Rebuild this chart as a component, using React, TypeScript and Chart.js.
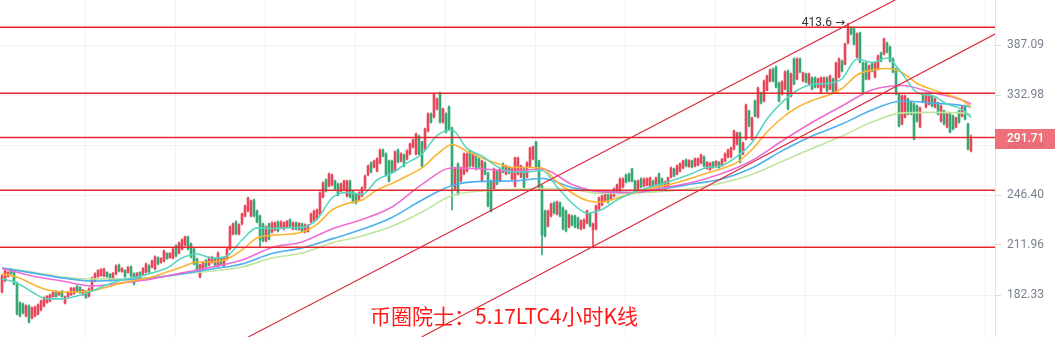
import React, { useEffect, useRef } from 'react';
import { Chart, registerables } from 'chart.js';

Chart.register(...registerables);

// ---- candle values (LTC 4h) ----
const openP = [
184.0,190.2,192.5,197.2,196.0,189.1,178.0,177.5,171.2,176.4,
170.2,171.2,172.2,174.3,176.4,178.0,179.1,181.3,184.6,182.3,
184.6,178.0,181.3,182.3,182.9,187.4,186.8,182.3,184.6,181.8,
185.2,190.2,192.5,193.1,193.1,195.4,194.3,190.8,194.3,199.6,
195.4,196.6,194.9,198.4,194.3,190.8,195.4,193.7,195.4,199.0,
198.4,197.2,203.8,200.8,202.0,206.9,203.8,203.8,211.4,206.9,
209.4,212.0,217.2,212.6,209.4,203.2,192.5,196.6,202.6,199.6,
200.8,203.2,199.0,203.8,199.0,203.2,209.4,219.2,227.2,219.2,
225.9,231.3,234.8,231.3,242.7,234.8,231.3,225.9,214.6,225.9,
220.5,221.8,227.2,223.2,222.5,223.8,228.6,222.5,226.5,221.8,
225.9,220.5,220.5,227.2,227.9,229.3,232.7,244.9,257.8,253.2,
254.0,257.0,254.7,249.4,251.0,245.7,257.0,248.7,247.2,243.4,
245.7,251.7,261.7,271.4,268.1,264.9,271.4,282.2,278.8,273.0,
273.0,264.9,282.2,273.0,278.0,274.7,278.8,284.7,278.8,294.3,
289.1,283.0,298.8,314.5,311.6,319.3,335.0,306.9,314.5,321.2,
301.5,251.0,270.5,257.0,262.5,264.9,281.4,268.9,277.2,274.7,
257.0,271.4,263.3,257.0,251.0,264.9,257.0,270.5,262.5,268.1,
258.6,253.2,262.5,260.1,266.5,260.1,268.9,274.7,289.1,273.0,
253.2,234.8,224.5,231.3,240.5,232.7,240.5,236.9,234.8,223.8,
231.3,231.3,229.9,222.5,223.2,226.5,232.7,221.8,222.5,236.2,
239.1,242.0,247.2,243.4,245.7,247.9,249.4,252.5,261.7,262.5,
266.5,257.0,250.2,258.6,253.2,254.0,253.2,257.0,254.7,262.5,
258.6,251.0,253.2,260.1,266.5,262.5,264.9,267.3,273.8,268.1,
273.0,268.9,269.7,271.4,276.3,266.5,265.7,272.2,268.1,272.2,
268.9,273.0,276.3,276.3,283.0,287.3,297.0,278.8,291.7,317.4,
291.7,327.0,311.6,335.0,327.0,338.0,347.4,360.1,362.3,345.3,
334.0,339.1,358.0,332.0,371.1,349.5,371.1,347.4,354.8,344.2,
350.5,350.5,341.1,336.0,341.1,350.5,339.1,349.5,336.0,351.6,
368.9,365.6,389.4,407.4,406.2,373.4,401.4,366.7,366.7,349.5,
365.6,351.6,360.1,377.9,376.8,389.4,384.8,371.1,360.1,334.0,
305.1,311.6,329.0,326.0,324.1,322.2,302.4,332.0,321.2,324.1,
332.0,321.2,325.1,307.9,317.4,302.4,314.5,312.6,302.4,317.4,
312.6,322.2,305.1,281.4];

const highP = [
193.7,196.6,195.4,197.2,196.6,189.7,178.6,178.0,177.0,177.0,
175.9,176.4,177.5,179.6,181.3,181.8,182.9,184.0,184.6,184.0,
184.6,181.8,184.0,186.3,186.3,187.4,186.8,185.2,184.6,186.3,
192.5,194.9,196.6,197.2,197.8,195.4,194.3,194.9,199.6,200.2,
197.8,196.6,198.4,199.0,194.9,194.9,195.4,197.8,200.8,199.6,
202.6,205.1,204.5,203.8,208.8,206.9,206.9,210.1,212.0,213.9,
215.9,217.8,217.8,213.3,210.1,203.8,200.2,201.4,202.6,204.5,
204.5,203.8,207.6,203.8,204.5,210.1,224.5,226.5,227.9,225.9,
233.4,239.1,244.9,242.7,243.4,235.5,232.0,226.5,224.5,226.5,
227.2,227.2,227.9,227.9,227.2,227.9,229.3,227.2,227.2,226.5,
226.5,225.9,225.2,233.4,235.5,236.2,248.7,256.3,258.6,263.3,
262.5,257.8,255.5,255.5,257.8,257.8,257.8,249.4,247.9,248.7,
252.5,261.7,269.7,272.2,273.8,275.5,283.0,283.0,279.7,273.8,
273.8,281.4,283.0,279.7,278.8,282.2,288.2,291.7,297.0,295.2,
289.9,301.5,315.5,315.5,335.0,330.0,336.0,320.2,315.5,322.2,
302.4,268.1,271.4,268.1,279.7,279.7,282.2,279.7,278.0,275.5,
273.8,272.2,264.1,257.8,267.3,265.7,267.3,271.4,269.7,268.9,
267.3,276.3,276.3,269.7,267.3,272.2,284.7,285.6,289.9,273.8,
254.0,235.5,235.5,240.5,241.3,242.0,241.3,237.7,235.5,232.7,
232.0,232.0,230.6,228.6,229.3,235.5,233.4,226.5,239.1,244.9,
246.4,247.9,247.9,248.7,251.7,254.7,259.4,259.4,262.5,263.3,
267.3,257.8,257.8,259.4,259.4,259.4,260.1,257.8,260.1,263.3,
259.4,257.0,260.1,268.1,267.3,269.7,271.4,273.8,274.7,273.8,
273.8,275.5,275.5,278.8,277.2,272.2,271.4,272.2,273.0,272.2,
274.7,279.7,283.0,284.7,299.7,297.9,297.9,289.1,324.1,318.3,
311.6,328.0,341.1,336.0,348.4,353.7,360.1,361.2,363.4,346.3,
347.4,358.0,359.0,355.8,372.3,372.3,372.3,356.9,355.8,355.8,
351.6,351.6,350.5,351.6,351.6,351.6,353.7,350.5,367.8,372.3,
370.0,389.4,413.6,408.6,407.4,401.4,402.6,367.8,367.8,364.5,
366.7,367.8,375.6,379.0,395.3,390.6,385.9,372.3,361.2,335.0,
333.0,333.0,330.0,327.0,325.1,323.1,321.2,333.0,335.0,335.0,
333.0,330.0,326.0,323.1,318.3,316.4,315.5,313.5,311.6,318.3,
322.2,323.1,306.0,295.2];

const lowP = [
183.5,189.7,192.5,194.3,188.0,171.7,170.7,172.2,170.7,167.6,
169.7,170.7,171.7,173.8,175.9,178.0,178.6,181.3,181.3,182.3,
181.3,177.5,181.3,182.3,182.9,184.0,183.5,182.3,180.7,181.3,
184.6,189.7,192.5,193.1,192.5,192.5,190.2,190.8,193.7,195.4,
195.4,192.5,194.9,192.5,188.0,190.8,192.0,193.7,194.9,194.9,
197.8,196.6,199.6,200.8,201.4,203.2,203.8,203.2,204.5,206.3,
208.8,211.4,208.8,203.8,199.6,195.4,192.0,196.0,198.4,199.0,
200.8,199.0,198.4,199.6,198.4,202.6,208.8,218.5,218.5,218.5,
225.2,230.6,234.1,230.6,230.6,226.5,210.7,213.9,213.9,215.2,
219.8,221.2,220.5,222.5,221.8,223.8,223.8,221.8,221.8,221.8,
220.5,219.8,220.5,226.5,227.2,228.6,232.0,244.2,248.7,252.5,
253.2,250.2,245.7,248.7,250.2,244.9,244.2,240.5,239.8,242.7,
244.9,251.0,260.9,263.3,267.3,264.1,270.5,276.3,260.9,256.3,
263.3,264.1,271.4,272.2,268.1,273.8,278.0,283.9,278.0,278.0,
268.1,282.2,297.9,306.0,310.7,318.3,306.0,306.0,297.0,299.7,
235.5,250.2,246.4,256.3,261.7,264.1,268.1,268.1,265.7,267.3,
256.3,261.7,237.7,234.1,250.2,254.0,256.3,263.3,261.7,262.5,
257.8,252.5,261.7,259.4,251.7,259.4,268.1,273.8,265.7,250.2,
205.7,217.2,223.8,230.6,232.7,232.0,230.6,221.8,220.5,223.2,
224.5,223.2,222.5,221.8,222.5,225.9,223.8,210.1,221.8,235.5,
238.4,241.3,240.5,242.7,244.9,247.2,248.7,251.7,255.5,256.3,
256.3,248.7,249.4,251.7,252.5,253.2,252.5,251.7,254.0,251.7,
252.5,250.2,252.5,259.4,260.1,261.7,264.1,266.5,268.1,268.1,
267.3,268.1,268.9,270.5,268.1,266.5,265.7,267.3,268.1,267.3,
268.9,272.2,275.5,275.5,282.2,286.4,271.4,278.0,290.8,302.4,
290.8,311.6,310.7,324.1,326.0,337.0,346.3,346.3,340.1,326.0,
333.0,338.0,318.3,331.0,343.2,348.4,355.8,346.3,345.3,343.2,
338.0,340.1,340.1,335.0,340.1,336.0,338.0,335.0,335.0,350.5,
356.9,364.5,388.3,398.9,387.1,372.3,366.7,335.0,348.4,348.4,
356.9,350.5,359.0,367.8,375.6,377.9,367.8,355.8,333.0,302.4,
304.2,310.7,313.5,313.5,290.8,306.9,301.5,325.1,320.2,323.1,
321.2,320.2,313.5,306.9,304.2,301.5,297.0,299.7,301.5,306.0,
311.6,308.8,282.2,280.5];

const closeP = [
193.1,196.0,195.4,194.3,188.5,172.2,171.2,172.8,176.4,168.1,
175.4,175.9,177.0,179.1,180.7,181.8,182.3,184.0,181.3,184.0,
181.3,181.3,184.0,186.3,186.3,184.0,183.5,185.2,180.7,185.7,
192.0,194.3,196.6,197.2,197.2,192.5,190.2,194.9,199.0,196.0,
197.8,192.5,198.4,193.1,188.5,194.9,192.0,197.8,200.2,195.4,
202.0,204.5,200.2,203.8,208.2,203.2,206.9,209.4,205.1,213.3,
215.2,217.2,209.4,204.5,200.2,196.0,199.6,200.8,198.4,203.8,
204.5,199.6,206.9,199.6,203.8,209.4,223.8,225.9,219.2,225.2,
232.7,238.4,244.2,242.0,231.3,227.2,215.2,214.6,223.8,215.9,
226.5,226.5,221.2,227.2,226.5,227.9,224.5,226.5,222.5,226.5,
221.2,225.2,225.2,232.7,234.8,235.5,247.9,255.5,249.4,262.5,
261.7,251.0,246.4,254.7,257.0,257.0,244.9,241.3,240.5,247.9,
251.7,260.9,268.9,264.1,273.0,274.7,282.2,277.2,261.7,257.0,
264.1,280.5,272.2,278.8,268.9,281.4,287.3,290.8,296.1,278.8,
268.9,300.6,314.5,306.9,334.0,329.0,306.9,319.3,297.9,300.6,
254.0,267.3,247.2,267.3,278.8,278.8,268.9,278.8,266.5,268.1,
273.0,262.5,238.4,234.8,266.5,254.7,266.5,264.1,268.9,263.3,
266.5,275.5,275.5,268.9,252.5,271.4,283.9,284.7,266.5,251.0,
218.5,217.8,234.8,239.8,233.4,241.3,231.3,222.5,221.2,232.0,
225.2,223.8,223.2,227.9,228.6,234.8,224.5,225.9,238.4,244.2,
245.7,247.2,241.3,247.9,251.0,254.0,258.6,258.6,256.3,257.0,
257.0,249.4,257.0,252.5,258.6,258.6,259.4,252.5,259.4,252.5,
253.2,256.3,259.4,267.3,260.9,268.9,270.5,273.0,268.9,273.8,
268.1,274.7,274.7,278.0,268.9,272.2,271.4,267.3,273.0,267.3,
274.7,278.8,282.2,283.9,298.8,297.0,272.2,288.2,323.1,303.3,
310.7,312.6,340.1,325.1,347.4,352.6,359.0,347.4,341.1,327.0,
346.3,356.9,319.3,354.8,344.2,371.1,356.9,355.8,346.3,354.8,
339.1,341.1,349.5,350.5,350.5,337.0,352.6,336.0,366.7,371.1,
358.0,388.3,409.9,400.1,388.3,400.1,367.8,336.0,349.5,363.4,
358.0,366.7,374.5,368.9,394.1,379.0,368.9,356.9,334.0,303.3,
332.0,332.0,314.5,314.5,291.7,307.9,320.2,326.0,334.0,334.0,
322.2,329.0,314.5,322.2,305.1,315.5,297.9,300.6,310.7,306.9,
321.2,309.7,283.0,291.71];

// ---- moving averages, read at sampled candle indices ----
const maFastIdx = [0,5,10,15,20,25,30,35,40,45,50,55,60,65,70,75,80,85,90,95,100,105,110,115,120,125,130,135,140,145,150,155,160,165,170,175,180,185,190,195,200,205,210,215,220,225,230,235,240,245,250,255,260,265,270,275,280,285,290,295,300,305,310,315,320,323];
const ma5 = [191.4,189.1,184.0,180.2,180.2,181.8,184.6,188.0,190.8,192.5,194.9,197.8,203.8,206.3,203.8,205.1,215.2,223.2,222.8,223.2,223.5,229.0,244.2,248.3,246.8,257.8,263.3,271.4,278.8,294.7,299.7,283.5,277.2,268.5,264.1,264.1,265.3,252.5,240.5,233.4,235.9,242.7,247.9,251.7,254.7,258.6,262.9,267.7,269.3,276.8,288.6,309.7,325.6,337.5,343.7,344.8,349.5,371.1,367.2,372.3,355.3,335.5,332.5,324.1,318.8,311.1];
const ma10 = [194.3,192.5,188.5,185.2,184.0,184.0,184.6,186.8,189.1,190.8,192.5,195.4,198.4,201.4,201.4,203.2,208.8,216.5,218.2,218.9,220.2,225.6,235.5,240.2,242.7,250.2,255.1,260.9,267.3,278.4,286.9,281.0,275.5,271.0,267.7,267.7,267.3,256.3,247.9,242.4,241.3,244.2,247.6,251.0,253.2,255.9,259.4,263.3,266.9,271.8,282.6,297.9,310.7,320.7,327.5,332.5,339.6,353.7,359.0,360.6,356.4,344.7,338.6,333.5,328.0,320.7];
const maSlowIdx = [0,10,20,30,40,50,60,70,80,90,100,110,120,130,140,150,160,170,180,190,200,210,220,230,240,250,260,270,280,290,300,310,320,323];
const ma20 = [197.5,193.1,190.2,187.4,189.1,191.4,194.9,198.4,202.6,210.4,213.9,222.5,228.9,237.7,254.4,267.3,266.5,264.9,266.5,254.4,248.7,248.3,251.7,255.9,262.9,273.4,289.9,306.5,322.2,338.0,342.7,335.5,328.0,324.1];
const ma30 = [197.8,194.9,192.0,190.2,190.8,192.0,194.3,197.2,200.2,206.6,210.1,215.9,222.2,230.3,242.7,253.6,256.7,257.0,259.0,252.1,249.0,248.3,251.0,254.7,258.6,267.3,281.4,294.3,305.1,318.3,327.0,325.1,322.6,321.2];
const ma60 = [197.8,195.4,192.5,191.4,191.4,192.0,194.3,196.0,198.4,203.8,206.9,213.3,217.8,224.2,234.1,246.0,249.4,250.6,251.3,250.6,247.5,247.9,249.1,251.3,255.5,262.1,272.6,283.5,294.3,306.9,315.5,316.0,315.5,314.0];

// ---- drawn levels and channel ----
const levelPrices = [408.3, 334.7, 293.0, 250.0, 210.5];
const channelUpperIdx = [82.1, 297.7];
const channelUpperPrice = [160.7, 443.3];
const channelLowerIdx = [139.9, 331.0];
const channelLowerPrice = [160.7, 400.1];

// ---- axes ----
const yTickValues = [182.33, 211.96, 246.40, 286.44, 332.98, 387.09];
const xGridIdx = [27.9, 57.9, 87.9, 117.9, 147.9, 177.9, 207.9, 237.9, 267.9, 297.9, 327.9];
const yMin = 160.67;
const yMax = 443.27;
const xMin = -2 / 3;
const xMax = 331;

const caption = '币圈院士：5.17LTC4小时K线';

const UP = '#e8465a';
const DOWN = '#37a874';
const GRID = '#f2f2f3';

export default function App() {
  const ref = useRef<HTMLCanvasElement>(null);

  useEffect(() => {
    document.body.style.margin = '0';
    const canvas = ref.current;
    if (!canvas) return;
    Chart.defaults.font.family = 'Roboto, "Noto Sans", sans-serif';

    const isUp = (i: number) => closeP[i] >= openP[i];
    const candleColor = (c: any) => (isUp(c.dataIndex) ? UP : DOWN);

    const bodies = openP.map((o, i) => ({ x: i, y: [o, closeP[i]] }));
    const wicks = lowP.map((l, i) => ({ x: i, y: [l, highP[i]] }));

    const maLine = (idx: number[], vals: number[], color: string) => ({
      type: 'line' as const,
      data: idx.map((x, k) => ({ x, y: vals[k] })),
      borderColor: color,
      borderWidth: 1.6,
      pointRadius: 0,
      fill: false,
      cubicInterpolationMode: 'monotone' as const,
      order: 1,
    });

    const straight = (xs: number[], ys: number[], color: string, width: number) => ({
      type: 'line' as const,
      data: xs.map((x, k) => ({ x, y: ys[k] })),
      borderColor: color,
      borderWidth: width,
      pointRadius: 0,
      fill: false,
      order: 0,
    });

    const levels = levelPrices.map((p) => straight([xMin, xMax], [p, p], '#e5262d', 1.5));

    const overlay = {
      id: 'overlay',
      afterDraw(chart: any) {
        const { ctx, chartArea, scales } = chart;
        const ys = scales.y;
        const xs = scales.x;
        ctx.save();
        // last price tag
        const last = closeP[closeP.length - 1];
        const py = ys.getPixelForValue(last);
        ctx.fillStyle = 'rgba(236, 96, 108, 0.9)';
        ctx.fillRect(chartArea.right, Math.round(py) - 10, 60, 20);
        ctx.fillStyle = '#ffffff';
        ctx.font = '500 12px Roboto';
        ctx.textAlign = 'left';
        ctx.textBaseline = 'middle';
        ctx.fillText(last.toFixed(2), chartArea.right + 12, py);
        // highest price marker
        let hi = 0;
        for (let i = 1; i < highP.length; i++) if (highP[i] > highP[hi]) hi = i;
        const hx = xs.getPixelForValue(hi);
        const hy = ys.getPixelForValue(highP[hi]);
        ctx.fillStyle = '#333333';
        ctx.font = '12px Roboto, "DejaVu Sans"';
        ctx.textAlign = 'right';
        ctx.fillText(highP[hi].toFixed(1) + ' →', hx - 3, hy);
        // caption
        ctx.textAlign = 'left';
        ctx.textBaseline = 'alphabetic';
        ctx.fillStyle = '#ff1a1a';
        ctx.font = '21px "Noto Sans CJK SC"';
        ctx.fillText(caption, 370, 324);
        ctx.restore();
      },
    };

    const chart = new Chart(canvas, {
      type: 'bar',
      data: {
        datasets: [
          ...levels,
          straight(channelUpperIdx, channelUpperPrice, '#d92a3c', 1.2),
          straight(channelLowerIdx, channelLowerPrice, '#d92a3c', 1.2),
          maLine(maFastIdx, ma5, '#57d6c1'),
          maLine(maFastIdx, ma10, '#fbb430'),
          maLine(maSlowIdx, ma20, '#ee6dd0'),
          maLine(maSlowIdx, ma30, '#4cb0ef'),
          maLine(maSlowIdx, ma60, '#bfe6a0'),
          {
            type: 'bar' as const,
            data: bodies as any,
            backgroundColor: candleColor,
            barThickness: 2,
            grouped: false,
            borderWidth: 0,
            order: 2,
          },
          {
            type: 'bar' as const,
            data: wicks as any,
            backgroundColor: candleColor,
            barThickness: 1,
            grouped: false,
            borderWidth: 0,
            order: 3,
          },
        ] as any,
      },
      options: {
        animation: false,
        responsive: true,
        maintainAspectRatio: false,
        devicePixelRatio: 1,
        events: [],
        layout: { padding: 0, autoPadding: false } as any,
        plugins: { legend: { display: false }, tooltip: { enabled: false } },
        scales: {
          x: {
            type: 'linear',
            min: xMin,
            max: xMax,
            offset: false,
            ticks: { display: false },
            grid: { color: GRID, drawTicks: false, offset: false },
            border: { display: false },
            afterBuildTicks: (s: any) => {
              s.ticks = xGridIdx.map((v) => ({ value: v }));
            },
            afterFit: (s: any) => {
              s.height = 0;
              s.paddingLeft = 0;
              s.paddingRight = 0;
            },
          },
          y: {
            type: 'logarithmic',
            position: 'right',
            min: yMin,
            max: yMax,
            afterBuildTicks: (s: any) => {
              s.ticks = yTickValues.map((v) => ({ value: v }));
            },
            afterFit: (s: any) => {
              s.width = 63;
              s.paddingTop = 0;
              s.paddingBottom = 0;
            },
            ticks: {
              autoSkip: false,
              padding: 6,
              color: '#7a8190',
              font: { size: 12, family: 'Roboto' },
              callback: (v: any) => Number(v).toFixed(2),
            },
            grid: { color: GRID, tickColor: '#d8d8d8', tickLength: 6 },
            border: { display: true, color: '#e4e4e4' },
          },
        } as any,
      },
      plugins: [overlay],
    });

    return () => chart.destroy();
  }, []);

  return (
    <div style={{ position: 'fixed', left: 0, top: 0, width: 1058, height: 337 }}>
      <canvas ref={ref} />
    </div>
  );
}
